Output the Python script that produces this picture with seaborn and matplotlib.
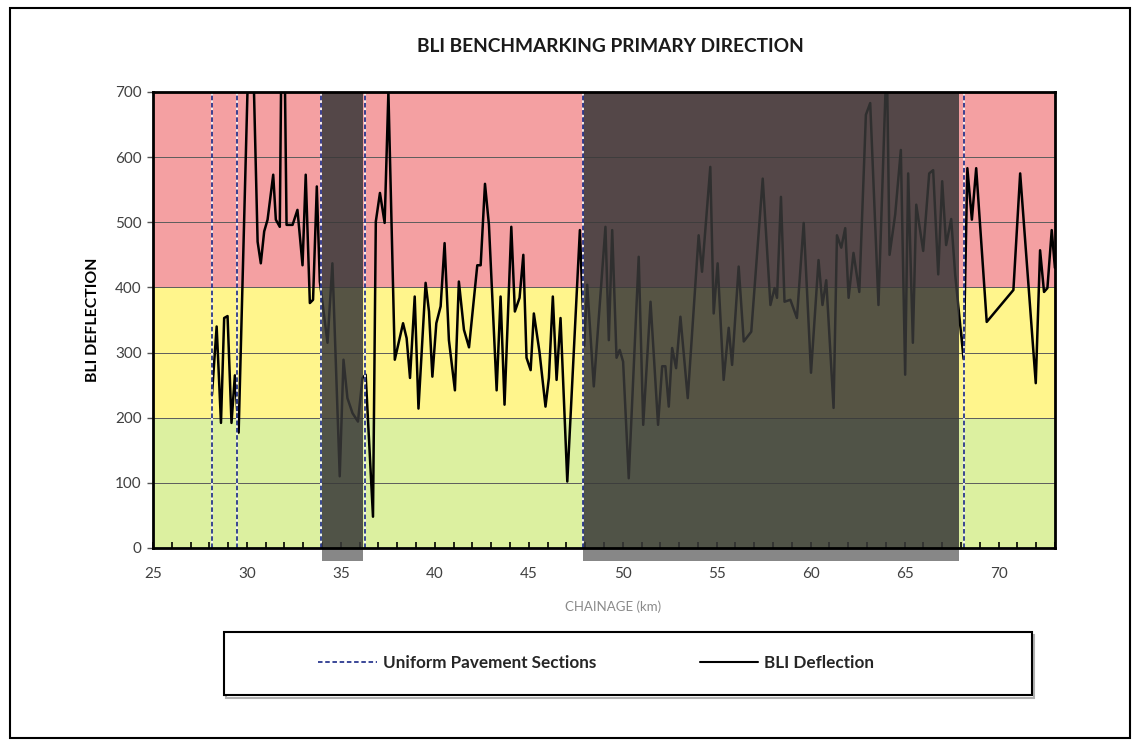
import matplotlib
matplotlib.use("Agg")
import matplotlib.pyplot as plt
from matplotlib.patches import Rectangle
from matplotlib.lines import Line2D
from matplotlib.ticker import MultipleLocator
import seaborn as sns
import pandas as pd

# Survey chainage (km) and measured BLI deflection
chainage_km = [
    28.14, 28.39, 28.62, 28.79, 28.97, 29.18, 29.36, 29.56, 30.21, 30.57,
    30.74, 30.92, 31.10, 31.40, 31.54, 31.75, 31.91, 32.11, 32.43, 32.69,
    32.96, 33.13, 33.35, 33.52, 33.72, 33.88, 34.29, 34.55, 34.94, 35.14,
    35.35, 35.62, 35.91, 36.15, 36.32, 36.71, 36.86, 37.08, 37.33, 37.53,
    37.87, 38.31, 38.50, 38.68, 38.93, 39.13, 39.51, 39.69, 39.87, 40.08,
    40.31, 40.52, 40.75, 41.07, 41.28, 41.55, 41.82, 42.26, 42.44, 42.67,
    42.88, 43.29, 43.50, 43.71, 44.07, 44.26, 44.51, 44.71, 44.88, 45.10,
    45.27, 45.57, 45.89, 46.07, 46.28, 46.48, 46.69, 47.05, 47.72, 47.95,
    48.11, 48.46, 49.08, 49.26, 49.44, 49.67, 49.84, 50.02, 50.32, 50.85,
    51.09, 51.48, 51.88, 52.10, 52.27, 52.45, 52.63, 52.84, 53.07, 53.46,
    54.04, 54.22, 54.66, 54.84, 55.05, 55.37, 55.64, 55.82, 56.17, 56.44,
    56.84, 57.45, 57.86, 58.08, 58.21, 58.42, 58.61, 58.92, 59.27, 59.63,
    60.02, 60.42, 60.63, 60.83, 61.22, 61.40, 61.63, 61.84, 62.02, 62.28,
    62.59, 62.94, 63.17, 63.61, 64.05, 64.20, 64.50, 64.80, 65.03, 65.19,
    65.44, 65.62, 65.99, 66.31, 66.52, 66.79, 67.00, 67.21, 67.48, 67.69,
    68.14, 68.34, 68.58, 68.81, 69.37, 70.79, 71.15, 71.98, 72.21, 72.42,
    72.60, 72.83, 73.00,
]
bli_deflection = [
    235, 340, 192, 353, 356, 192, 265, 177, 900, 470,
    437, 486, 504, 573, 504, 493, 1000, 496, 496, 519,
    434, 573, 376, 381, 555, 409, 315, 437, 110, 289,
    230, 207, 194, 261, 266, 48, 501, 545, 499, 700,
    289, 345, 322, 261, 386, 214, 407, 363, 263, 345,
    371, 468, 319, 242, 409, 335, 308, 434, 434, 559,
    496, 242, 386, 220, 493, 363, 384, 450, 292, 273,
    360, 301, 217, 261, 386, 258, 353, 102, 488, 310,
    404, 248, 493, 319, 488, 292, 304, 286, 107, 447,
    189, 378, 189, 279, 279, 217, 307, 276, 355, 230,
    480, 424, 585, 360, 437, 258, 338, 281, 432, 317,
    332, 567, 373, 399, 384, 539, 378, 381, 353, 499,
    269, 442, 373, 411, 215, 480, 461, 491, 384, 453,
    393, 665, 683, 373, 760, 450, 512, 611, 266, 575,
    315, 527, 456, 575, 580, 420, 563, 465, 505, 420,
    290, 583, 504, 583, 347, 396, 575, 253, 457, 393,
    399, 488, 430,
]

# Boundaries of uniform pavement sections (km)
section_breaks_km = [28.14, 29.45, 33.93, 36.29, 47.90, 68.17]
# Lengths excluded from the benchmark (km)
excluded_start_km = [34.02, 47.90]
excluded_end_km = [36.18, 67.90]

# Condition bands: good / warning / poor
band_lower = [0, 200, 400]
band_upper = [200, 400, 700]
band_colours = ["#DCF0A0", "#FFF58C", "#F4A0A2"]

title_text = "BLI BENCHMARKING PRIMARY DIRECTION"
x_label = "CHAINAGE (km)"
y_label = "BLI DEFLECTION"
legend_labels = ["Uniform Pavement Sections", "BLI Deflection"]

df = pd.DataFrame({"chainage": chainage_km, "bli": bli_deflection})

sns.set_theme(style="white")
plt.rcParams["font.family"] = ["Lato", "DejaVu Sans"]

fig = plt.figure(figsize=(11.38, 7.40), dpi=100)
ax = fig.add_axes([0.1344, 0.2595, 0.7926, 0.6162])

# coloured condition bands
for lo, hi, col in zip(band_lower, band_upper, band_colours):
    ax.axhspan(lo, hi, color=col, lw=0, zorder=0)
for yv in range(100, 700, 100):
    ax.axhline(yv, color="#5c5c5c", lw=0.7, zorder=1)

sns.lineplot(data=df, x="chainage", y="bli", color="black", lw=1.8,
             sort=False, estimator=None, ax=ax, zorder=2)

# excluded lengths shaded over the data, with markers below the axis
for x0, x1 in zip(excluded_start_km, excluded_end_km):
    ax.axvspan(x0, x1, color="#383838", alpha=0.85, lw=0, zorder=3)
    ax.add_patch(Rectangle((x0, -0.028), x1 - x0, 0.028,
                           transform=ax.get_xaxis_transform(),
                           facecolor="#878787", edgecolor="none",
                           clip_on=False, zorder=3))

for xb in section_breaks_km:
    ax.axvline(xb, color="#2B3990", lw=1.3, linestyle=(0, (2.5, 1.5)),
               gapcolor="#f4f4f4", zorder=4)

ax.set_xlim(25, 73)
ax.set_ylim(0, 700)
ax.xaxis.set_major_locator(MultipleLocator(5))
ax.xaxis.set_minor_locator(MultipleLocator(1))
ax.yaxis.set_major_locator(MultipleLocator(100))
ax.tick_params(axis="x", which="both", direction="in", length=4, width=1.2,
               color="black", labelsize=11, labelcolor="#404040", pad=14,
               bottom=True)
ax.tick_params(axis="y", which="major", direction="out", length=4, width=1,
               color="#555555", labelsize=11, labelcolor="#404040", pad=4,
               left=True)
for sp in ax.spines.values():
    sp.set_visible(True)
    sp.set_color("black")
    sp.set_linewidth(2)
    sp.set_zorder(5)

ax.set_xlabel("")
ax.set_ylabel(y_label, fontsize=11.4, fontweight="bold", color="black",
              labelpad=11)

fig.text(0.539, 1 - 607 / 740, x_label, ha="center", va="center",
         fontsize=9.5, color="#8a8a8a")
fig.text(0.536, 1 - 47 / 740, title_text, ha="center", va="center",
         fontsize=13.8, fontweight="bold", color="#1a1a1a")

# legend panel with a faint drop shadow
fig.patches.append(Rectangle((226 / 1138, 1 - 698 / 740), 808 / 1138, 63 / 740,
                             transform=fig.transFigure, fill=False,
                             edgecolor="#b0b0b0", lw=1.5))
fig.patches.append(Rectangle((224 / 1138, 1 - 695 / 740), 808 / 1138, 63 / 740,
                             transform=fig.transFigure, facecolor="white",
                             edgecolor="black", lw=1.5))
handles = [
    Line2D([], [], color="#2B3990", lw=1.3, linestyle=(0, (2.5, 1.5))),
    Line2D([], [], color="black", lw=1.5),
]
fig.legend(handles, legend_labels, loc="center",
           bbox_to_anchor=(0.524, 1 - 663 / 740), ncol=2, frameon=False,
           prop={"weight": "bold", "size": 12.3}, handlelength=3.4,
           columnspacing=6.1, handletextpad=0.35)

# outer frame
fig.patches.append(Rectangle((0.009, 0.003), 0.984, 0.986,
                             transform=fig.transFigure, fill=False,
                             edgecolor="black", lw=1.5))

fig.savefig("out.png", dpi=100)
